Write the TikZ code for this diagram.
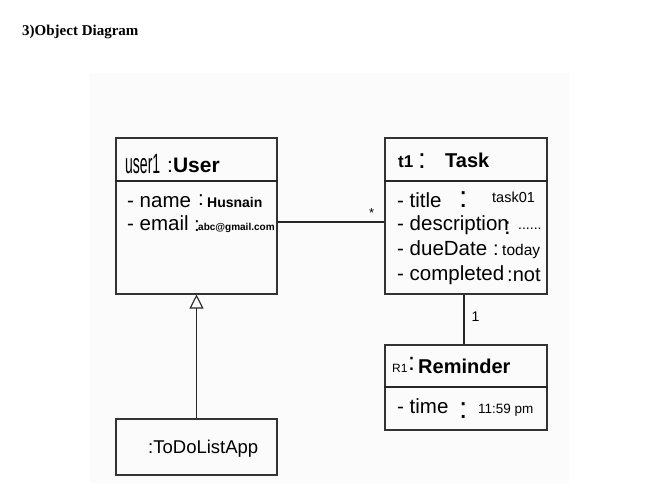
\documentclass[tikz,border=0pt]{standalone}
\usepackage{fontspec}
\setmainfont{Liberation Sans}
\newfontfamily\titleserif{Liberation Serif}
\usetikzlibrary{arrows.meta}
\newcommand{\fsz}[1]{\fontsize{#1}{#1}\selectfont}

\begin{document}
\begin{tikzpicture}[x=1pt,y=-1pt,
  objbox/.style={shape=rectangle,draw=black!80,line width=1.1pt,inner sep=0pt},
  attr/.style={anchor=base west,inner sep=0pt,font=\fsz{20.5}},
  conn/.style={draw=black!85,line width=1.1pt}]
\useasboundingbox (0,0) rectangle (669,483);
\fill[black!1.5] (90,73) rectangle (569,483);

\node[anchor=base west,inner sep=0pt,font=\titleserif\bfseries\fsz{15}] (title) at (22,35) {3)Object Diagram};

% boxes
\node[objbox,minimum width=161pt,minimum height=156pt] (user) at (196.5,216) {};
\node[objbox,minimum width=162pt,minimum height=156pt] (task) at (466,216) {};
\node[objbox,minimum width=162pt,minimum height=85pt] (reminder) at (466,387.5) {};
\node[objbox,minimum width=161pt,minimum height=56pt] (app) at (196.5,447) {};

\draw[conn] (user.west |- 0,181) -- (user.east |- 0,181);
\draw[conn] (task.west |- 0,181) -- (task.east |- 0,181);
\draw[conn] (reminder.west |- 0,387) -- (reminder.east |- 0,387);

% user1 : User
\node[attr] (uhead) at (125,173) {\scalebox{0.5}[1]{\fsz{28}user1}};
\node[attr,font=\fsz{21}] (uclass) at (167,172) {:\textbf{User}};
\node[attr] (uname) at (127,207) {- name};
\node[attr] (unamec) at (198,205) {:};
\node[attr,font=\bfseries\fsz{14}] (unamev) at (207,207) {Husnain};
\node[attr] (umail) at (127,230) {- email};
\node[attr] (umailc) at (194,231) {:};
\node[attr,font=\bfseries\fsz{10}] (umailv) at (198,230) {abc@gmail.com};

% t1 : Task
\node[attr,font=\bfseries\fsz{17}] (thead) at (398,167) {t1};
\node[attr,font=\fsz{28}] (theadc) at (418,168) {:};
\node[attr,font=\bfseries\fsz{20}] (tclass) at (445,167) {Task};
\node[attr] (ttitle) at (397,207) {- title};
\node[attr,font=\fsz{30}] (ttitlec) at (459,207) {:};
\node[attr,font=\fsz{14.5}] (ttitlev) at (492,202) {task01};
\node[attr] (tdesc) at (397,230) {- description};
\node[attr,font=\fsz{24}] (tdescc) at (504,234) {:};
\node[attr,font=\fsz{14}] (tdescv) at (518,229) {......};
\node[attr] (tdue) at (397,255) {- dueDate};
\node[attr,font=\fsz{20}] (tduec) at (493,255) {:};
\node[attr,font=\fsz{15.5}] (tduev) at (502,255) {today};
\node[attr] (tdone) at (397,280) {- completed};
\node[attr,font=\fsz{20}] (tdonev) at (507,281) {:not};

% R1 : Reminder
\node[attr,font=\fsz{12}] (rhead) at (392,372) {R1};
\node[attr,font=\fsz{25}] (rheadc) at (408,370) {:};
\node[attr,font=\bfseries\fsz{20}] (rclass) at (418,373) {Reminder};
\node[attr] (rtime) at (397,413) {- time};
\node[attr,font=\fsz{30}] (rtimec) at (459,418) {:};
\node[attr,font=\fsz{13.5}] (rtimev) at (478,413) {11:59 pm};

% :ToDoListApp
\node[attr,font=\fsz{18.5}] (appname) at (148,453) {:ToDoListApp};

% links
\draw[conn] ([yshift=-6pt]user.east) -- node[pos=0.88,above=4pt,inner sep=0pt,font=\fsz{13}]{*} ([yshift=-6pt]task.west);
\draw[conn] ([xshift=-2pt]task.south) -- node[pos=0.45,right=7pt,inner sep=0pt,font=\fsz{14}]{1} ([xshift=-2pt]reminder.north);
\draw[conn,-{Triangle[open,length=14pt,width=14pt]}] (app.north) -- (user.south);
\end{tikzpicture}
\end{document}
